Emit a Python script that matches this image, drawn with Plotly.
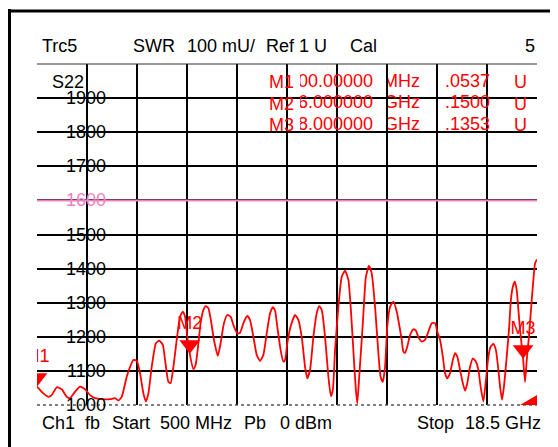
import plotly.graph_objects as go

# ---------------- data ----------------
freq_ghz = [0.50, 0.73, 0.91, 1.03, 1.21, 1.39, 1.57, 1.69, 1.87, 2.05,
            2.23, 2.41, 2.59, 2.83, 3.13, 3.31, 3.43, 3.55, 3.73, 3.85,
            3.97, 4.09, 4.21, 4.33, 4.42, 4.51, 4.63, 4.78, 4.90, 5.03,
            5.11, 5.23, 5.31, 5.41, 5.53, 5.65, 5.75, 5.83, 5.91, 6.00,
            6.13, 6.21, 6.31, 6.39, 6.49, 6.58, 6.67, 6.76, 6.87, 7.01,
            7.11, 7.23, 7.35, 7.47, 7.59, 7.71, 7.81, 7.95, 8.07, 8.17,
            8.29, 8.41, 8.53, 8.65, 8.77, 8.89, 8.99, 9.07, 9.15, 9.27,
            9.37, 9.43, 9.51, 9.63, 9.79, 9.91, 10.03, 10.15, 10.23, 10.33,
            10.45, 10.57, 10.66, 10.75, 10.87, 10.99, 11.08, 11.15, 11.23, 11.35,
            11.47, 11.59, 11.71, 11.80, 11.91, 11.98, 12.03, 12.10, 12.23, 12.34,
            12.45, 12.55, 12.67, 12.79, 12.87, 12.95, 13.03, 13.11, 13.21, 13.33,
            13.45, 13.57, 13.63, 13.69, 13.75, 13.83, 13.93, 14.05, 14.14, 14.23,
            14.35, 14.47, 14.59, 14.71, 14.83, 14.91, 15.01, 15.11, 15.19, 15.27,
            15.37, 15.47, 15.55, 15.63, 15.73, 15.83, 15.91, 15.99, 16.09, 16.19,
            16.30, 16.39, 16.47, 16.57, 16.65, 16.75, 16.83, 16.93, 17.02, 17.11,
            17.17, 17.24, 17.31, 17.41, 17.50, 17.56, 17.63, 17.70, 17.77, 17.83,
            17.89, 18.00, 18.07, 18.13, 18.22, 18.31, 18.37, 18.43, 18.50]

swr_mu = [1054, 1034, 1024, 1029, 1052, 1046, 1024, 1020, 1039, 1054,
          1046, 1029, 1020, 1017, 1017, 1020, 1013, 1024, 1083, 1112,
          1132, 1130, 1093, 1034, 1010, 1034, 1112, 1181, 1189, 1176,
          1132, 1068, 1064, 1112, 1191, 1259, 1274, 1259, 1200, 1150,
          1105, 1117, 1181, 1240, 1279, 1290, 1284, 1249, 1191, 1144,
          1181, 1240, 1264, 1259, 1230, 1210, 1212, 1244, 1261, 1249,
          1200, 1147, 1129, 1147, 1210, 1269, 1287, 1277, 1230, 1161,
          1127, 1132, 1181, 1230, 1264, 1249, 1200, 1112, 1078, 1103,
          1200, 1269, 1290, 1279, 1200, 1083, 1026, 1044, 1161, 1288,
          1376, 1394, 1367, 1279, 1132, 1044, 1005, 1083, 1240, 1376,
          1408, 1386, 1288, 1152, 1083, 1068, 1112, 1230, 1288, 1303,
          1274, 1220, 1191, 1156, 1153, 1171, 1205, 1222, 1218, 1199,
          1186, 1191, 1215, 1240, 1240, 1215, 1191, 1142, 1093, 1078,
          1093, 1132, 1152, 1142, 1103, 1064, 1042, 1064, 1112, 1137,
          1127, 1103, 1054, 1010, 1064, 1142, 1171, 1179, 1161, 1103,
          1054, 1015, 1054, 1142, 1230, 1308, 1347, 1362, 1337, 1279,
          1220, 1135, 1068, 1132, 1210, 1308, 1367, 1416, 1427]

y_tick_values = [1900, 1800, 1700, 1600, 1500, 1400, 1300, 1200, 1100, 1000]
y_tick_labels = ["1900", "1800", "1700", "1600", "1500", "1400", "1300", "1200", "1100", "1000"]
ref_value = 1600

marker_names = ["M1", "M2", "M3"]
marker_freq_ghz = [0.5, 6.0, 18.0]
marker_swr_mu = [1053.7, 1150.0, 1135.3]
marker_freq_text = ["500.00000", "6.000000", "18.000000"]
marker_unit_text = ["MHz", "GHz", "GHz"]
marker_value_text = ["1.0537", "1.1500", "1.1353"]
marker_unit_u = ["U", "U", "U"]

header_words = ["Trc5", "SWR", "100 mU/", "Ref 1 U", "Cal"]
header_right = "5"
footer_words = ["Ch1", "fb", "Start", "500 MHz", "Pb", "0 dBm", "Stop", "18.5 GHz"]
trace_label = "S22"

x_start, x_stop = 0.5, 18.5
y_bottom, y_top = 1000, 2000
n_xdiv = 10

# ---------------- layout geometry / style ----------------
# page pixels: the figure sits 8 px in from the page corner (body margin)
W, H = 558, 447
OFF = 8
PL, PT, PR, PB = 37, 64, 537, 405      # plot area in page pixels
L, T = PL - OFF, PT - OFF
R = W - L - (PR - PL)
B = H - T - (PB - PT)
plot_w = PR - PL
plot_h = PB - PT
px_per_unit = plot_h / (y_top - y_bottom)


def pxx(px):
    return (px - PL) / plot_w


def pxy(py):
    return (PB - py) / plot_h


FONT = "Liberation Sans, Arial, sans-serif"
FS = 18
RED = "#ff0000"
PINK = "#ee82be"
BLACK = "#000000"

fig = go.Figure()

# main trace
fig.add_trace(go.Scatter(
    x=freq_ghz, y=swr_mu, mode="lines",
    line=dict(color=RED, width=1.8, shape="spline", smoothing=0.5),
    cliponaxis=True, hoverinfo="skip"))

# marker triangles (tip on the marker value)
tri_r = 9
fig.add_trace(go.Scatter(
    x=marker_freq_ghz, y=[v + tri_r / px_per_unit for v in marker_swr_mu],
    mode="markers",
    marker=dict(symbol="triangle-down", size=2 * tri_r, color=RED, line=dict(width=0)),
    cliponaxis=True, hoverinfo="skip"))

# marker labels
fig.add_trace(go.Scatter(
    x=marker_freq_ghz, y=[v + 29 / px_per_unit for v in marker_swr_mu],
    mode="text", text=marker_names, textposition="middle center",
    textfont=dict(family=FONT, size=FS, color=RED),
    cliponaxis=True, hoverinfo="skip"))

# clipped columns of the marker table
row_px = [82, 103.5, 125]
columns = [
    (marker_freq_text, 300, 380, 373),
    (marker_unit_text, 388, 430, 420),
    (marker_value_text, 446, 500, 490),
]
for i, (texts, clip_l, clip_r, right_px) in enumerate(columns, start=2):
    fig.add_trace(go.Scatter(
        x=[right_px] * len(texts), y=row_px, mode="text", text=texts,
        textposition="middle left",
        textfont=dict(family=FONT, size=FS, color=RED),
        xaxis=f"x{i}", yaxis=f"y{i}", cliponaxis=True, hoverinfo="skip"))
    fig.layout[f"xaxis{i}"] = dict(domain=[pxx(clip_l), pxx(clip_r)], range=[clip_l, clip_r],
                                   visible=False, anchor=f"y{i}", fixedrange=True)
    fig.layout[f"yaxis{i}"] = dict(domain=[pxy(140), pxy(66)], range=[140, 66],
                                   visible=False, anchor=f"x{i}", fixedrange=True)

annotations = []


def add_text(text, x, y, xanchor="left", color=BLACK, xref="paper", yref="paper"):
    annotations.append(dict(text=text, x=x, y=y, xref=xref, yref=yref, xanchor=xanchor,
                            yanchor="middle", showarrow=False,
                            font=dict(family=FONT, size=FS, color=color)))


# y tick labels drawn over the grid
for v, lab in zip(y_tick_values, y_tick_labels):
    add_text(lab, pxx(86), v, xanchor="center", color=PINK if v == ref_value else BLACK, yref="y")

add_text(trace_label, pxx(50), pxy(82))

# header
for word, px in zip(header_words, [40, 131, 185, 264, 348]):
    add_text(word, pxx(px), pxy(46))
add_text(header_right, pxx(537), pxy(46), xanchor="right")

# footer
for word, px in zip(footer_words, [40, 83, 110, 158, 242, 278, 415, 463]):
    add_text(word, pxx(px), pxy(423))

# marker table names and units
for name, u, py in zip(marker_names, marker_unit_u, row_px):
    add_text(name, pxx(267), pxy(py), color=RED)
    add_text(u, pxx(512), pxy(py), color=RED)

shapes = [
    # reference line
    dict(type="line", xref="paper", yref="y", x0=0, x1=1, y0=ref_value, y1=ref_value,
         line=dict(color=PINK, width=2), layer="above"),
    # plot box
    dict(type="line", xref="paper", yref="paper", x0=0, x1=1, y0=1, y1=1,
         line=dict(color="#333333", width=1.2)),
    dict(type="line", xref="paper", yref="paper", x0=0, x1=1, y0=0, y1=0,
         line=dict(color="#555555", width=1.5, dash="dot")),
    # corner indicator
    dict(type="path", xref="paper", yref="paper",
         path=f"M {pxx(520)},{pxy(405)} L {pxx(537)},{pxy(405)} L {pxx(537)},{pxy(395)} Z",
         fillcolor=RED, line=dict(width=0), layer="above"),
    # outer frame
    dict(type="line", xref="paper", yref="paper", x0=pxx(9), x1=pxx(9), y0=pxy(9), y1=pxy(460),
         line=dict(color=BLACK, width=4)),
    dict(type="line", xref="paper", yref="paper", x0=pxx(7), x1=pxx(570), y0=pxy(11), y1=pxy(11),
         line=dict(color=BLACK, width=3)),
]

fig.update_layout(
    width=W, height=H,
    margin=dict(l=L, r=R, t=T, b=B, pad=0),
    paper_bgcolor="white", plot_bgcolor="rgba(0,0,0,0)",
    showlegend=False,
    xaxis=dict(range=[x_start, x_stop], tickmode="linear", tick0=x_start,
               dtick=(x_stop - x_start) / n_xdiv, showgrid=True, gridcolor=BLACK, gridwidth=1.6,
               showticklabels=False, ticks="", zeroline=False, showline=False, fixedrange=True),
    yaxis=dict(range=[y_bottom, y_top], tickmode="array",
               tickvals=[v for v in y_tick_values if v != y_bottom] + [y_top],
               showgrid=True, gridcolor=BLACK, gridwidth=1.6,
               showticklabels=False, ticks="", zeroline=False, showline=False, fixedrange=True),
    annotations=annotations,
    shapes=shapes,
)

fig.write_html("out.html")
